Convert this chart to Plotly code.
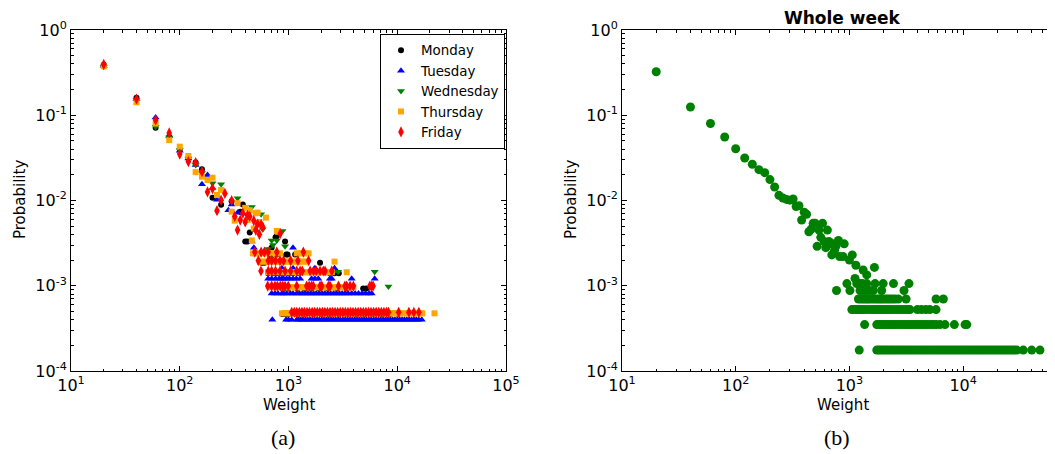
import plotly.graph_objects as go

# ---------------- Left panel data (per weekday) ----------------
# Monday (black circles)
mon_top_w = [20, 40, 60, 80, 100, 120, 140, 160, 200, 240, 300, 360, 380, 400, 420, 440, 760, 780, 930]
mon_top_p = [0.39, 0.16, 0.0715, 0.056, 0.040, 0.0315, 0.028, 0.0232, 0.0108, 0.0089, 0.0098, 0.0074, 0.0090,
             0.0033, 0.0033, 0.0042, 0.0037, 0.0038, 0.0033]
mon_levels = [4.65e-4, 9.3e-4, 1.4e-3, 1.86e-3, 2.33e-3, 2.8e-3]
mon_band1 = [880, 920, 960, 1000, 1200, 1400, 1700, 2000, 2400, 2900, 3500, 4200, 5000, 6000, 7200, 8600, 10200]
mon_band2 = [900, 1000, 1200, 1400, 1600, 1900, 2300, 2800, 3400, 4860, 5200]
mon_band3 = [650, 720, 780, 840, 900, 1000, 1100, 1250, 2400, 2650, 2900]
mon_band4 = [570, 600, 1950]
mon_band5 = [690, 780, 955, 980, 1150]
mon_band6 = [700]

# Tuesday (blue triangles up)
tue_top_w = [20, 40, 60, 80, 100, 120, 140, 160, 180, 200, 220, 280, 300, 340, 380, 460, 480, 500, 1100]
tue_top_p = [0.38, 0.155, 0.094, 0.057, 0.0384, 0.031, 0.026, 0.0155, 0.0199, 0.014, 0.0102, 0.0077, 0.009,
             0.0072, 0.0071, 0.0033, 0.0028, 0.0045, 0.0028]
tue_levels = [3.98e-4, 8.1e-4, 1.21e-3, 1.6e-3, 2.0e-3]
tue_band1 = [710, 950, 1000, 1070, 1190, 1240, 1300, 1360, 1430, 1500, 1580, 1660, 1740, 1830, 1920, 2020,
             2120, 2230, 2340, 2460, 2590, 2720, 2860, 3000, 3160, 3320, 3490, 3670, 3860, 4060, 4270, 4490,
             4720, 4960, 5220, 5490, 5770, 6070, 6380, 6710, 7050, 7410, 7800, 8200, 8620, 9060, 9530,
             10020, 10530, 11070, 11640, 12240, 12870, 13530, 14230, 14960, 15730, 16800]
tue_band2 = [700, 750, 800, 870, 900, 960, 1040, 1100, 1190, 1260, 1340, 1420, 1500, 1600, 1700, 1800, 1920,
             2040, 2160, 2300, 2440, 2600, 2760, 2940, 3120, 3320, 3540, 3810, 4100, 4400, 4750, 5100,
             5500, 5820]
tue_band3 = [650, 700, 760, 820, 870, 900, 960, 1020, 1100, 1180, 1280, 1630, 1750, 1880, 2400, 2500, 3810, 6200]
tue_band4 = [870, 1100, 1750, 2650]
tue_band5 = [670, 720]

# Wednesday (green triangles down)
wed_top_w = [20, 40, 60, 80, 100, 120, 140, 160, 200, 240, 340, 460, 560, 580, 650, 700, 720, 780, 880, 930, 1230]
wed_top_p = [0.37, 0.15, 0.0734, 0.055, 0.039, 0.031, 0.026, 0.021, 0.0159, 0.0155, 0.0106, 0.0084, 0.0069,
             0.0046, 0.0027, 0.0034, 0.0030, 0.0034, 0.0044, 0.0029, 0.0024]
wed_levels = [4.9e-4, 9.8e-4, 1.46e-3]
wed_band1 = [950, 1100, 1300, 1600, 2000, 2500, 3100, 3900, 4800, 6000, 7500, 9300]
wed_band2 = [835, 1300, 1900, 8300]
wed_band3 = [1460, 1580, 2250, 2600, 2860, 6200]

# Thursday (orange squares)
thu_top_w = [20, 40, 60, 80, 100, 120, 140, 160, 180, 200, 220, 240, 300, 320, 340, 400, 420, 440, 460, 480,
             500, 520, 540, 620, 780, 800]
thu_top_p = [0.375, 0.142, 0.080, 0.051, 0.0428, 0.0333, 0.0215, 0.0190, 0.0174, 0.0185, 0.0116, 0.0133,
             0.0074, 0.0058, 0.0093, 0.0082, 0.0059, 0.0077, 0.0034, 0.0047, 0.0071, 0.0072, 0.0056, 0.0063,
             0.0044, 0.0043]
thu_levels = [4.75e-4, 9.6e-4, 1.44e-3, 1.92e-3, 2.4e-3]
thu_band1 = [870, 920, 980, 1040, 1100, 1170, 1240, 1320, 1400, 1490, 1580, 1680, 1780, 1890, 2010, 2130,
             2260, 2400, 2550, 2710, 2880, 3060, 3250, 3450, 3660, 3890, 4130, 4390, 4660, 4950, 5260,
             5580, 5930, 6300, 6690, 7100, 7540, 8010, 8510, 9030, 9590, 10190, 10820, 11490, 12200,
             12960, 13760, 14610, 15520, 16480, 17000, 22000]
thu_band2 = [700, 760, 835, 880, 930, 980, 1040, 1100, 1160, 1230, 1300, 1380, 1460, 1540, 1630, 1730,
             1830, 1940, 2050, 2170, 2300, 2430, 2570, 2720, 2880, 3050, 3230, 3420, 3620, 3950]
thu_band3 = [650, 690, 730, 780, 830, 880, 940, 1000, 1060, 1130, 1200, 1280, 1360, 1450, 1540, 1640,
             1750, 1860, 1980, 2100, 2240, 2380, 2500, 3430]
thu_band4 = [545, 580, 620, 660, 700, 750, 800, 850, 900, 960, 1020, 1090, 1160, 1230, 1310, 1390, 1470, 2650]
thu_band5 = [470, 500, 540, 580, 620, 670, 720, 770, 835, 1190, 1270, 1350, 1440, 1530]

# Friday (red thin diamonds)
fri_top_w = [20, 40, 60, 80, 100, 120, 140, 160, 180, 200, 220, 240, 260, 300, 320, 340, 360, 380, 400, 420,
             440, 480, 500, 520, 540, 560, 580, 840]
fri_top_p = [0.395, 0.155, 0.088, 0.062, 0.035, 0.0285, 0.0278, 0.0218, 0.0126, 0.0138, 0.0076, 0.0101,
             0.0121, 0.0100, 0.0065, 0.0045, 0.0059, 0.0071, 0.0056, 0.0067, 0.0065, 0.0058, 0.0045, 0.0053,
             0.0040, 0.0052, 0.0049, 0.0041]
fri_levels = [4.88e-4, 9.9e-4, 1.49e-3, 1.97e-3, 2.48e-3]
fri_band1 = [1070, 1130, 1190, 1260, 1330, 1400, 1480, 1560, 1650, 1740, 1840, 1940, 2050, 2160, 2280,
             2410, 2540, 2680, 2830, 2990, 3160, 3330, 3520, 3720, 3920, 4140, 4370, 4620, 4880, 5150,
             5440, 5740, 6060, 6400, 6760, 7140, 7540, 7960, 8300, 10300, 12800, 14200, 15800]
fri_band2 = [644, 700, 751, 790, 840, 885, 930, 995, 1190, 1470, 1550, 1630, 1690, 1950, 2020, 2330, 2410,
             2880, 3300, 3430, 3680, 3950, 5600, 5820, 6000]
fri_band3 = [558, 652, 700, 760, 835, 930, 1045, 1190, 1280, 1340, 1580, 1700, 1800, 1950, 2090, 2170, 2500]
fri_band4 = [528, 652, 700, 760, 835, 900, 1045, 1220, 1530]
fri_band5 = [490, 560, 600, 650, 780, 1370]

# ---------------- Right panel data (whole week) ----------------
week_top_w = [20, 40, 60, 80, 100, 120, 140, 160, 180, 200, 220, 240, 260, 280, 300, 320, 340, 360, 380, 400,
              420, 440, 460, 480, 500, 520, 540, 560, 580, 600, 620, 640, 660, 680, 700, 720, 740, 760, 800,
              820, 880, 900, 1000, 1060, 1120, 1140, 1320, 1420, 1660]
week_top_p = [0.324, 0.125, 0.080, 0.0556, 0.0405, 0.0315, 0.0266, 0.0230, 0.0212, 0.0176, 0.0144, 0.0115,
              0.0107, 0.0103, 0.0101, 0.0104, 0.0085, 0.0087, 0.0059, 0.0073, 0.0069, 0.0043, 0.0046,
              0.0054, 0.0054, 0.0029, 0.0045, 0.0037, 0.0054, 0.0033, 0.0028, 0.0045, 0.0033, 0.0031,
              0.0023, 0.0031, 0.0026, 0.0029, 0.0034, 0.0022, 0.0022, 0.0031, 0.0020, 0.0023, 0.00122,
              0.00174, 0.00153, 0.00134, 0.00164]
week_levels = [1.76e-4, 3.5e-4, 5.25e-4, 7.0e-4, 8.8e-4, 1.06e-3]
week_band1 = [1220, 1740, 1820, 1900, 1990, 2080, 2180, 2290, 2400, 2520, 2650, 2790, 2930, 3080, 3240,
              3410, 3590, 3780, 3980, 4190, 4410, 4640, 4880, 5140, 5410, 5700, 6000, 6320, 6650, 7000,
              7370, 7760, 8170, 8600, 9060, 9540, 10040, 10570, 11130, 11720, 12340, 12990, 13680, 14400,
              15160, 15960, 16800, 17690, 18620, 19600, 20640, 21730, 22880, 24090, 25360, 26700, 28110,
              29600, 33800, 40100, 47400, 60100]
week_band2 = [1360, 1740, 1820, 1900, 2000, 2100, 2200, 2320, 2440, 2560, 2700, 2840, 3000, 3160, 3340,
              3520, 3720, 3920, 4140, 4380, 4620, 4880, 5160, 5460, 5800, 6260, 6930, 8370, 10400, 10770]
week_band3 = [1050, 1100, 1160, 1220, 1280, 1340, 1420, 1520, 1600, 1680, 1760, 1860, 1960, 2060, 2180,
              2300, 2440, 2600, 2760, 2940, 3120, 3300, 3410, 3960, 4300, 4700, 5100, 5780]
week_band4 = [1200, 1260, 1320, 1380, 1440, 1500, 1580, 1660, 1740, 1820, 1900, 1980, 2080, 2180, 2280,
              2400, 2520, 2690, 3150, 5780, 6700]
week_band5 = [770, 1010, 1240, 1320, 1400, 1500, 1620, 1920, 3020]
week_band6 = [950, 1160, 1240, 1300, 1420, 1680, 1980, 2440, 3340]

days = ["Monday", "Tuesday", "Wednesday", "Thursday", "Friday"]


def assemble(top_w, top_p, bands, levels):
    xs, ys = list(top_w), list(top_p)
    for ws, p in zip(bands, levels):
        xs.extend(ws)
        ys.extend([p] * len(ws))
    return xs, ys


series = {
    "Monday": assemble(mon_top_w, mon_top_p,
                       [mon_band1, mon_band2, mon_band3, mon_band4, mon_band5, mon_band6], mon_levels),
    "Tuesday": assemble(tue_top_w, tue_top_p,
                        [tue_band1, tue_band2, tue_band3, tue_band4, tue_band5], tue_levels),
    "Wednesday": assemble(wed_top_w, wed_top_p, [wed_band1, wed_band2, wed_band3], wed_levels),
    "Thursday": assemble(thu_top_w, thu_top_p,
                         [thu_band1, thu_band2, thu_band3, thu_band4, thu_band5], thu_levels),
    "Friday": assemble(fri_top_w, fri_top_p,
                       [fri_band1, fri_band2, fri_band3, fri_band4, fri_band5], fri_levels),
}
week_x, week_y = assemble(week_top_w, week_top_p,
                          [week_band1, week_band2, week_band3, week_band4, week_band5, week_band6],
                          week_levels)

styles = {
    "Monday": dict(symbol="circle", color="#000000", size=6),
    "Tuesday": dict(symbol="triangle-up", color="#0000FF", size=7),
    "Wednesday": dict(symbol="triangle-down", color="#008000", size=7),
    "Thursday": dict(symbol="square", color="#FFA500", size=6),
    "Friday": dict(symbol="diamond-tall", color="#FF0000", size=8),
}

fig = go.Figure()
for d in days:
    x, y = series[d]
    st = styles[d]
    fig.add_trace(go.Scatter(
        x=x, y=y, mode="markers", name=d, xaxis="x", yaxis="y",
        marker=dict(symbol=st["symbol"], color=st["color"], size=st["size"], line=dict(width=0)),
    ))

fig.add_trace(go.Scatter(
    x=week_x, y=week_y, mode="markers", name="Whole week", showlegend=False, xaxis="x2", yaxis="y2",
    marker=dict(symbol="circle", color="#008000", size=9, line=dict(width=0)),
))

# The page body has an 8px margin; the figure is sized to fit the 1055x454 window exactly.
OFF = 8
W, H = 1055 - OFF, 454 - OFF
FONT = "DejaVu Sans"


def px_x(X):
    return (X - OFF) / W


def px_y(Y):
    return 1 - (Y - OFF) / H


def log_axis(lo, hi, domain, anchor):
    major = [10.0 ** k for k in range(lo, hi + 1)]
    text = [f"10<sup>{k}</sup>" for k in range(lo, hi + 1)]
    minor = [m * 10.0 ** k for k in range(lo, hi) for m in range(2, 10)]
    return dict(
        type="log", domain=domain, anchor=anchor, automargin=False,
        tickmode="array", tickvals=major, ticktext=text,
        ticks="inside", ticklen=5, tickwidth=1, tickcolor="black",
        minor=dict(tickmode="array", tickvals=minor, ticks="inside", ticklen=2.5,
                   tickwidth=1, tickcolor="black", showgrid=False),
        showline=True, linecolor="black", linewidth=1, mirror="ticks",
        showgrid=False, zeroline=False,
        tickfont=dict(family=FONT, size=16, color="black"),
    )


yd = [px_y(371), px_y(30)]
xa = log_axis(1, 5, [px_x(71), px_x(506)], "y")
xa["range"] = [1, 5]
ya = log_axis(-4, 0, yd, "x")
ya["range"] = [-4, 0]
xa2 = log_axis(1, 5, [px_x(622), 1.0], "y2")
xa2["range"] = [1, 4.808]
ya2 = log_axis(-4, 0, yd, "x2")
ya2["range"] = [-4, 0]

ann = []


def txt(s, xpx, ypx, size=15, family=FONT, angle=0, bold=False):
    ann.append(dict(text=f"<b>{s}</b>" if bold else s, x=px_x(xpx), y=px_y(ypx), xref="paper", yref="paper",
                    showarrow=False, xanchor="center", yanchor="middle", textangle=angle,
                    font=dict(family=family, size=size, color="black")))


txt("Weight", 289, 405)
txt("Weight", 843, 405)
txt("Probability", 20, 200, angle=-90)
txt("Probability", 571, 200, angle=-90)
txt("(a)", 283, 437, size=22, family="Liberation Serif")
txt("(b)", 837, 437, size=22, family="Liberation Serif")
txt("Whole week", 842, 18, size=17, bold=True)

fig.update_layout(
    width=W, height=H, margin=dict(l=0, r=0, t=0, b=0, autoexpand=False),
    paper_bgcolor="white", plot_bgcolor="white",
    xaxis=xa, yaxis=ya, xaxis2=xa2, yaxis2=ya2,
    annotations=ann,
    showlegend=True,
    legend=dict(x=px_x(505), xanchor="right", y=px_y(34), yanchor="top", xref="paper", yref="paper",
                bgcolor="white", bordercolor="black", borderwidth=1,
                font=dict(family=FONT, size=13.4, color="black"), tracegroupgap=0),
    font=dict(family=FONT, color="black"),
)

fig.write_html("out.html")
